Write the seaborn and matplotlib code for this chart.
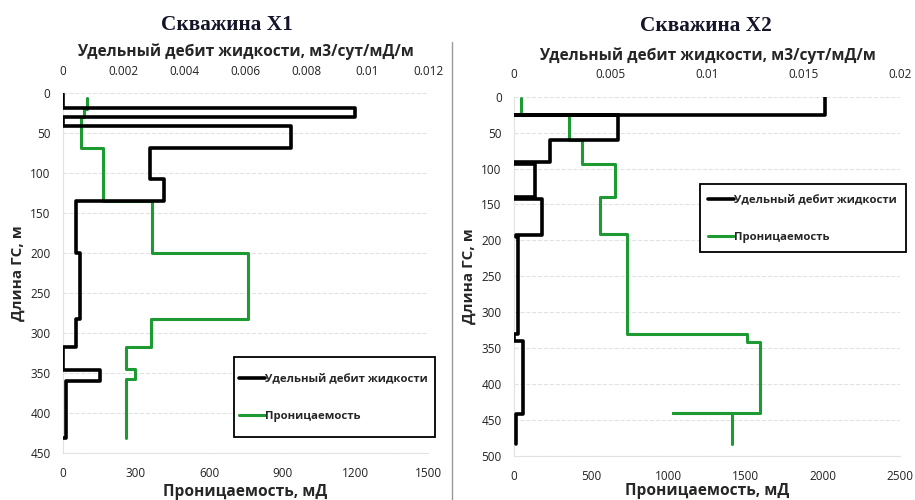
import matplotlib
matplotlib.use("Agg")
import matplotlib.pyplot as plt
import seaborn as sns

sns.set_style("white")
plt.rcParams['font.family'] = ['Open Sans', 'DejaVu Sans']

# Скважина X1: границы интервалов (м) и значения
x1_debit_depth = [1, 19, 30, 41, 69, 108, 135, 200, 283, 318, 346, 360, 431, 431]
x1_debit = [0, 0.0096, 0, 0.0075, 0.00287, 0.00332, 0.00042, 0.00055, 0.00042,
            0, 0.00122, 0.00011, 0]
x1_perm_depth = [6, 20, 30, 69, 135, 200, 283, 318, 345, 358, 431]
x1_perm = [97, 85, 75, 164, 367, 760, 363, 260, 295, 257]

# Скважина X2
x2_debit_depth = [0, 25.5, 25.5, 60, 91, 94, 140, 143, 193, 195, 330, 340, 441, 483]
x2_debit = [0.0161, 0, 0.0054, 0.00185, 0, 0.00107, 0, 0.00145, 0.0001, 0.0002,
            0, 0.00047, 0.0001]
x2_perm_depth = [2, 26, 60, 93, 140, 191, 330, 341, 440, 440, 483]
x2_perm = [43, 358, 436, 652, 555, 728, 1506, 1592, 1031, 1409]

titles = ['Скважина X1', 'Скважина X2']
top_label = 'Удельный дебит жидкости, м3/сут/мД/м'
bottom_label = 'Проницаемость, мД'
y_label = 'Длина ГС, м'
legend_labels = ['Удельный дебит жидкости', 'Проницаемость']

GREEN = '#1e9a32'
GRID = '#e2e2e2'
W, H = 915, 500


def step_xy(depths, values):
    # точки для ступенчатой линии: значение держится до следующей границы
    return list(values) + [values[-1]], list(depths)


def draw_well(ax, debit_depth, debit, perm_depth, perm, perm_max, debit_max,
              depth_max, perm_ticks, debit_ticks, bottom_pad):
    ax_top = ax.twiny()

    px, py = step_xy(perm_depth, perm)
    sns.lineplot(x=px, y=py, ax=ax, sort=False, estimator=None,
                 drawstyle='steps-pre', color=GREEN, linewidth=2.2)
    dx, dy = step_xy(debit_depth, debit)
    sns.lineplot(x=dx, y=dy, ax=ax_top, sort=False, estimator=None,
                 drawstyle='steps-pre', color='black', linewidth=2.6)

    ax.set_xlim(0, perm_max)
    ax_top.set_xlim(0, debit_max)
    ax.set_ylim(depth_max, 0)
    ax.set_yticks(range(0, depth_max + 1, 50))
    ax.set_xticks(perm_ticks)
    ax_top.set_xticks(debit_ticks)
    ax_top.set_xticklabels(['0' if t == 0 else f'{t:g}' for t in debit_ticks])

    ax.grid(axis='y', color=GRID, linestyle='--', linewidth=0.8)
    ax.grid(axis='x', visible=False)
    ax_top.grid(False)
    for a in (ax, ax_top):
        for s in a.spines.values():
            s.set_visible(False)
        a.tick_params(length=0, labelsize=8.5, colors='#222222')
    ax.spines['left'].set_visible(True)
    ax.spines['left'].set_color(GRID)
    ax.spines['bottom'].set_visible(True)
    ax.spines['bottom'].set_color(GRID)
    ax.tick_params(axis='x', pad=10)
    ax.tick_params(axis='y', pad=9)
    ax_top.tick_params(axis='x', pad=11)

    ax.set_xlabel(bottom_label, fontsize=11.2, fontweight='bold', labelpad=bottom_pad)
    ax.set_ylabel(y_label, fontsize=11, fontweight='bold', labelpad=4)
    ax_top.set_xlabel(top_label, fontsize=11.2, fontweight='bold', labelpad=6)
    return ax_top


fig = plt.figure(figsize=(W / 100, H / 100), dpi=100)
ax1 = fig.add_axes([0.0689, 0.094, 0.399, 0.72])
ax2 = fig.add_axes([0.562, 0.088, 0.4216, 0.7186])

top1 = draw_well(ax1, x1_debit_depth, x1_debit, x1_perm_depth, x1_perm,
                 1500, 0.012, 450, [0, 300, 600, 900, 1200, 1500],
                 [0, 0.002, 0.004, 0.006, 0.008, 0.01, 0.012], 3)
top2 = draw_well(ax2, x2_debit_depth, x2_debit, x2_perm_depth, x2_perm,
                 2500, 0.02, 500, [0, 500, 1000, 1500, 2000, 2500],
                 [0, 0.005, 0.01, 0.015, 0.02], 0)

fig.text(227 / W, 1 - 25 / H, titles[0], ha='center', va='center', fontsize=15.3,
         fontweight='bold', family='Liberation Serif', color='#15152a')
fig.text(706 / W, 1 - 26 / H, titles[1], ha='center', va='center', fontsize=15.3,
         fontweight='bold', family='Liberation Serif', color='#15152a')

# разделитель между скважинами
fig.add_artist(plt.Line2D([452 / W, 452 / W], [0.0, 1 - 42 / H], color='#9a9a9a',
                          linewidth=1, transform=fig.transFigure))

# рамки легенд (в пикселях: x0, y0, x1, y1) и точка привязки содержимого
legend_boxes = [((234, 357, 435, 437), (239, 398)),
                ((700, 184, 906, 252), (708, 219))]
for top, ax, (rect, anchor) in zip((top1, top2), (ax1, ax2), legend_boxes):
    x0, y0, x1, y1 = rect
    fig.add_artist(plt.Rectangle((x0 / W, 1 - y1 / H), (x1 - x0) / W, (y1 - y0) / H,
                                 transform=fig.transFigure, fill=True,
                                 facecolor='white', edgecolor='black',
                                 linewidth=1.3, zorder=5))
    handles = [top.get_lines()[0], ax.get_lines()[0]]
    leg = fig.legend(handles, legend_labels, loc='center left',
                     bbox_to_anchor=(anchor[0] / W, 1 - anchor[1] / H),
                     frameon=False, borderaxespad=0, borderpad=0,
                     handlelength=2.3, handletextpad=0.0, labelspacing=2.3,
                     prop={'size': 8.2, 'weight': 'bold'})
    leg.set_zorder(6)

fig.savefig('out.png', dpi=100)
